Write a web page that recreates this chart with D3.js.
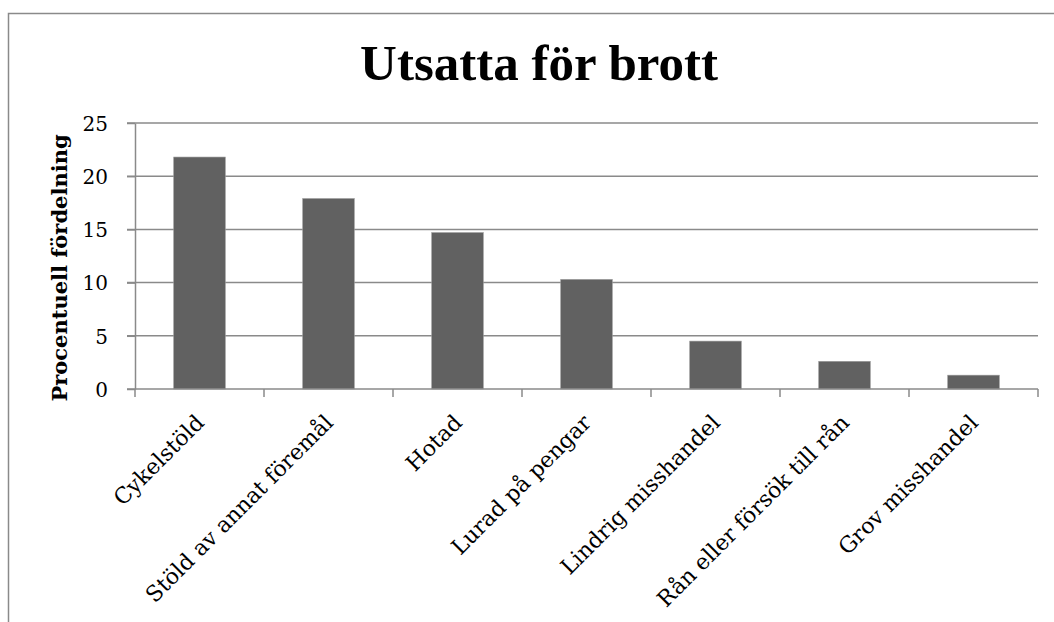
<!DOCTYPE html>
<html>
<head>
<meta charset="utf-8">
<script src="https://cdn.jsdelivr.net/npm/d3@7"></script>
<style>
  body { margin: 0; background: #fff; }
  svg { display: block; font-family: "DejaVu Serif", "Liberation Serif", serif; }
</style>
</head>
<body>
<div id="chart"></div>
<script>
// données
const categories = [
  "Cykelstöld",
  "Stöld av annat föremål",
  "Hotad",
  "Lurad på pengar",
  "Lindrig misshandel",
  "Rån eller försök till rån",
  "Grov misshandel"
];
const values = [21.8, 17.9, 14.7, 10.3, 4.5, 2.6, 1.3];
const yTicks = [0, 5, 10, 15, 20, 25];
const title = "Utsatta för brott";
const yTitle = "Procentuell fördelning";

const width = 1054;
const height = 622;
const margin = { top: 123, right: 16, bottom: 233, left: 135 };

const svg = d3.select("#chart")
  .append("svg")
  .attr("width", width)
  .attr("height", height);

// cadre
svg.append("rect")
  .attr("x", 8.5)
  .attr("y", 13.5)
  .attr("width", 1100)
  .attr("height", 700)
  .attr("fill", "none")
  .attr("stroke", "#8a8a8a")
  .attr("stroke-width", 1.5);

const x = d3.scaleBand()
  .domain(categories)
  .range([margin.left, width - margin.right])
  .paddingInner(0.6)
  .paddingOuter(0.3);

const y = d3.scaleLinear()
  .domain([0, 25])
  .range([height - margin.bottom, margin.top]);

// grille
svg.append("g")
  .selectAll("line")
  .data(yTicks.filter(d => d > 0))
  .join("line")
  .attr("x1", margin.left - 8)
  .attr("x2", width - margin.right)
  .attr("y1", d => y(d))
  .attr("y2", d => y(d))
  .attr("stroke", "#8a8a8a")
  .attr("stroke-width", 1.5);

// barres
svg.append("g")
  .selectAll("rect")
  .data(values)
  .join("rect")
  .attr("x", (d, i) => x(categories[i]))
  .attr("y", d => y(d))
  .attr("width", x.bandwidth())
  .attr("height", d => y(0) - y(d))
  .attr("fill", "#616161")
  .attr("stroke", "#9a9a9a")
  .attr("stroke-width", 0.6);

// axe Y
const yAxis = svg.append("g")
  .attr("transform", `translate(${margin.left},0)`)
  .call(d3.axisLeft(y).tickValues(yTicks).tickSize(8).tickPadding(19).tickSizeOuter(0));
yAxis.select(".domain").attr("stroke", "#8a8a8a").attr("stroke-width", 1.5);
yAxis.selectAll(".tick line").attr("stroke", "#8a8a8a").attr("stroke-width", 1.5);
yAxis.selectAll(".tick text")
  .attr("font-size", 20)
  .attr("font-family", "DejaVu Serif, serif")
  .attr("fill", "#000")
  .attr("dy", "0.36em");

// axe X : ligne de base et graduations aux limites des catégories
const bounds = d3.range(categories.length + 1).map(i => margin.left + i * (width - margin.right - margin.left) / categories.length);
const xg = svg.append("g");
xg.append("line")
  .attr("x1", margin.left - 8)
  .attr("x2", width - margin.right)
  .attr("y1", y(0))
  .attr("y2", y(0))
  .attr("stroke", "#8a8a8a")
  .attr("stroke-width", 1.5);
xg.selectAll("line.tk")
  .data(bounds)
  .join("line")
  .attr("class", "tk")
  .attr("x1", d => d)
  .attr("x2", d => d)
  .attr("y1", y(0))
  .attr("y2", y(0) + 8)
  .attr("stroke", "#8a8a8a")
  .attr("stroke-width", 1.5);

// étiquettes X
svg.append("g")
  .selectAll("text")
  .data(categories)
  .join("text")
  .attr("transform", d => `translate(${x(d) + x.bandwidth() / 2 + 6},${y(0) + 35}) rotate(-45)`)
  .attr("text-anchor", "end")
  .attr("font-size", 22)
  .attr("fill", "#000")
  .text(d => d);

// titre Y
svg.append("text")
  .attr("transform", `translate(67,${(y(0) + y(25)) / 2 + 12}) rotate(-90)`)
  .attr("text-anchor", "middle")
  .attr("font-size", 21)
  .attr("font-weight", "bold")
  .attr("fill", "#000")
  .text(yTitle);

// titre
svg.append("text")
  .attr("x", 539)
  .attr("y", 80)
  .attr("text-anchor", "middle")
  .attr("font-family", "Liberation Serif, serif")
  .attr("font-size", 51)
  .attr("font-weight", "bold")
  .attr("fill", "#000")
  .text(title);
</script>
</body>
</html>
